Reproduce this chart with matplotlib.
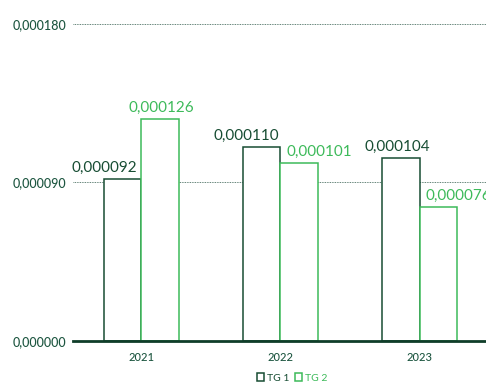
import matplotlib.pyplot as plt
import numpy as np

years = ["2021", "2022", "2023"]
tg1 = [0.000092, 0.000110, 0.000104]
tg2 = [0.000126, 0.000101, 0.000076]
yticks = [0.0, 0.00009, 0.00018]

dark = "#174d33"
light = "#3dba5a"
text_col = "#1d5640"

plt.rcParams['font.family'] = ['Lato', 'DejaVu Sans']

def fmt(v):
    return ("%.6f" % v).replace(".", ",")

fig = plt.figure(figsize=(4.86, 3.85), dpi=100)
ax = fig.add_axes([73 / 486, 44 / 385, 437 / 486, 317 / 385])

x = np.arange(len(years))
w = 0.27
b1 = ax.bar(x - w / 2, tg1, w, facecolor="white", edgecolor=dark, linewidth=1.1, zorder=3, label="TG 1")
b2 = ax.bar(x + w / 2, tg2, w, facecolor="white", edgecolor=light, linewidth=1.1, zorder=3, label="TG 2")

# label nudges in pixels so neighbouring values don't collide
off1 = [-18, -15, -3]
off2 = [1, 20, 20]
for xi, v, dx in zip(x - w / 2, tg1, off1):
    ax.annotate(fmt(v), (xi, v), xytext=(dx, 4), textcoords="offset pixels",
                ha="center", va="bottom", fontsize=11, color=dark, zorder=4)
for xi, v, dx in zip(x + w / 2, tg2, off2):
    ax.annotate(fmt(v), (xi, v), xytext=(dx, 4), textcoords="offset pixels",
                ha="center", va="bottom", fontsize=11, color=light, zorder=4)

ax.set_ylim(0, 0.00018)
ax.set_xlim(-0.49, 2.65)
ax.set_yticks(yticks)
ax.set_yticklabels([fmt(v) for v in yticks], fontsize=9, color=text_col, fontweight="medium")
ax.set_xticks(x)
ax.set_xticklabels(years, fontsize=8, color=text_col, fontweight="medium")
ax.tick_params(axis="both", length=0, pad=5)
ax.tick_params(axis="x", pad=8)

for s in ["top", "right", "left"]:
    ax.spines[s].set_visible(False)
ax.spines["bottom"].set_color("#0f3d29")
ax.spines["bottom"].set_linewidth(2)
ax.spines["bottom"].set_zorder(5)

for v in yticks[1:]:
    ax.axhline(v, color="#2f5a4a", linestyle=(0, (1, 1)), linewidth=0.6, zorder=1)

leg = fig.legend(handles=[b1, b2], loc="center", bbox_to_anchor=(292 / 486, 1 - 378 / 385),
                 ncol=2, frameon=False, fontsize=7.5, handlelength=0.7, handleheight=0.7,
                 handletextpad=0.2, columnspacing=0.6)
for t, c in zip(leg.get_texts(), [dark, light]):
    t.set_color(c)

fig.savefig("out.png", dpi=100)
